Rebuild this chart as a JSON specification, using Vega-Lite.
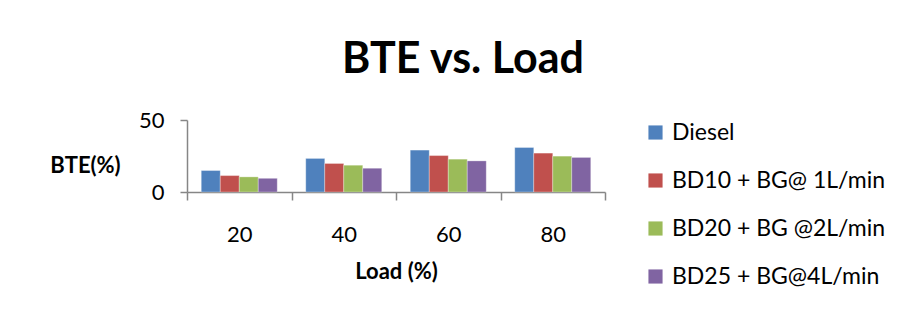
{
  "$schema": "https://vega.github.io/schema/vega-lite/v6.json",
  "autosize": "none",
  "width": 418,
  "height": 72,
  "padding": {"left": 187, "top": 120, "right": 301, "bottom": 120},
  "background": "white",
  "title": {
    "text": "BTE vs. Load",
    "font": "Lato",
    "fontSize": 43,
    "fontWeight": "bold",
    "color": "black",
    "anchor": "middle",
    "frame": "group",
    "dx": 67,
    "offset": 27
  },
  "data": {
    "values": [
      {"Load": "20", "Fuel": "Diesel", "BTE": 14.9},
      {"Load": "20", "Fuel": "BD10 + BG@ 1L/min", "BTE": 11.4},
      {"Load": "20", "Fuel": "BD20 + BG @2L/min", "BTE": 10.5},
      {"Load": "20", "Fuel": "BD25 + BG@4L/min", "BTE": 9.5},
      {"Load": "40", "Fuel": "Diesel", "BTE": 23.3},
      {"Load": "40", "Fuel": "BD10 + BG@ 1L/min", "BTE": 19.8},
      {"Load": "40", "Fuel": "BD20 + BG @2L/min", "BTE": 18.6},
      {"Load": "40", "Fuel": "BD25 + BG@4L/min", "BTE": 16.5},
      {"Load": "60", "Fuel": "Diesel", "BTE": 29.1},
      {"Load": "60", "Fuel": "BD10 + BG@ 1L/min", "BTE": 25.3},
      {"Load": "60", "Fuel": "BD20 + BG @2L/min", "BTE": 22.8},
      {"Load": "60", "Fuel": "BD25 + BG@4L/min", "BTE": 21.6},
      {"Load": "80", "Fuel": "Diesel", "BTE": 30.9},
      {"Load": "80", "Fuel": "BD10 + BG@ 1L/min", "BTE": 27.0},
      {"Load": "80", "Fuel": "BD20 + BG @2L/min", "BTE": 24.9},
      {"Load": "80", "Fuel": "BD25 + BG@4L/min", "BTE": 24.0}
    ]
  },
  "mark": {"type": "bar", "stroke": "white", "strokeWidth": 0.5, "strokeOpacity": 0.6},
  "encoding": {
    "x": {
      "field": "Load",
      "type": "ordinal",
      "scale": {"paddingInner": 0, "paddingOuter": 0},
      "axis": {
        "title": "Load (%)",
        "labelAngle": 0,
        "tickBand": "extent",
        "tickSize": 8,
        "labelPadding": 24,
        "titlePadding": 16
      }
    },
    "xOffset": {
      "field": "Fuel",
      "sort": ["Diesel", "BD10 + BG@ 1L/min", "BD20 + BG @2L/min", "BD25 + BG@4L/min"],
      "scale": {"paddingInner": 0, "paddingOuter": 0.75}
    },
    "y": {
      "field": "BTE",
      "type": "quantitative",
      "scale": {"domain": [0, 50]},
      "axis": {
        "values": [0, 50],
        "title": "BTE(%)",
        "titleAngle": 0,
        "titleX": -102,
        "titleY": 45,
        "titleAlign": "center",
        "titleBaseline": "middle",
        "tickSize": 7,
        "labelPadding": 16
      }
    },
    "color": {
      "field": "Fuel",
      "type": "nominal",
      "sort": ["Diesel", "BD10 + BG@ 1L/min", "BD20 + BG @2L/min", "BD25 + BG@4L/min"],
      "scale": {
        "domain": ["Diesel", "BD10 + BG@ 1L/min", "BD20 + BG @2L/min", "BD25 + BG@4L/min"],
        "range": ["#4F81BD", "#C0504D", "#9BBB59", "#8064A2"]
      },
      "legend": {
        "title": null,
        "orient": "none",
        "legendX": 457,
        "legendY": 1,
        "symbolType": "square",
        "symbolSize": 200,
        "symbolStrokeWidth": 0,
        "labelFont": "Lato",
        "labelFontSize": 23,
        "labelColor": "black",
        "rowPadding": 24,
        "labelOffset": 5,
        "labelLimit": 300
      }
    }
  },
  "config": {
    "view": {"stroke": null},
    "axis": {
      "domainColor": "#868686",
      "domainWidth": 1.5,
      "tickColor": "#868686",
      "tickWidth": 1.5,
      "grid": false,
      "labelFont": "Lato",
      "labelFontSize": 22,
      "labelColor": "black",
      "titleFont": "Lato",
      "titleFontSize": 22,
      "titleFontWeight": "bold",
      "titleColor": "black"
    }
  }
}
